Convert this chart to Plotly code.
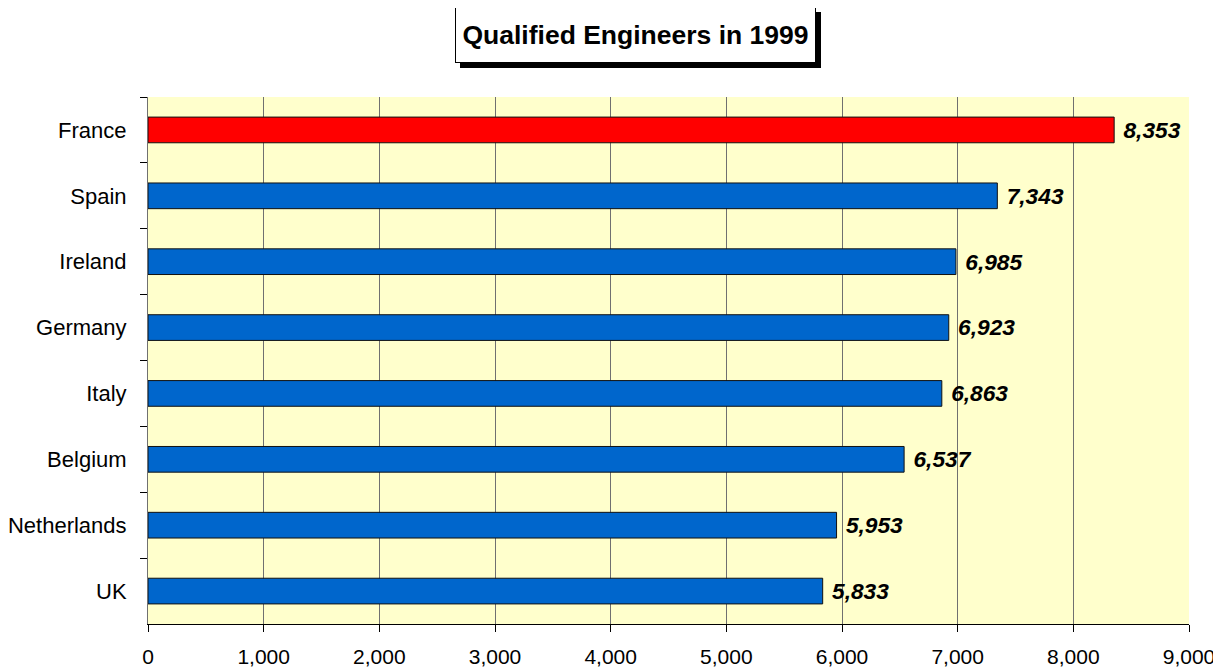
import plotly.graph_objects as go

countries = ["France", "Spain", "Ireland", "Germany", "Italy", "Belgium", "Netherlands", "UK"]
engineers = [8353, 7343, 6985, 6923, 6863, 6537, 5953, 5833]
bar_colors = ["#FF0000"] + ["#0066CC"] * 7
x_ticks = [0, 1000, 2000, 3000, 4000, 5000, 6000, 7000, 8000, 9000]
title_text = "Qualified Engineers in 1999"

FAM = "Liberation Sans, Arial"

fig = go.Figure()
fig.add_trace(go.Bar(
    y=countries, x=engineers, orientation="h",
    marker=dict(color=bar_colors, line=dict(color="#111111", width=1)),
    width=0.39,
    texttemplate=" %{x:,}",
    textposition="outside",
    cliponaxis=False,
    textfont=dict(family=FAM, size=23, color="#000000",
                  weight="bold", style="italic"),
))

yfont = dict(family=FAM, size=22, color="#000000")
xfont = dict(family=FAM, size=21, color="#000000")
title_font = dict(family=FAM, size=26.5, color="#000000", weight="bold")

fig.update_layout(
    width=1213, height=662,
    margin=dict(l=140, r=32, t=89, b=46),
    paper_bgcolor="#FFFFFF",
    plot_bgcolor="#FFFFCC",
    showlegend=False,
    font=yfont,
    xaxis=dict(
        range=[0, 9000], tickvals=x_ticks,
        ticktext=[f"{v:,}" for v in x_ticks],
        showgrid=True, gridcolor="#707070", gridwidth=1,
        showline=True, linecolor="#000000", linewidth=1,
        ticks="outside", ticklen=7, tickcolor="#000000",
        ticklabelstandoff=7, zeroline=False, tickfont=xfont,
        automargin=False,
    ),
    yaxis=dict(
        categoryorder="array", categoryarray=countries, autorange="reversed",
        showgrid=False,
        showline=True, linecolor="#707070", linewidth=1,
        ticks="outside", ticklen=7, tickcolor="#000000",
        tickson="boundaries", ticklabelstandoff=16, tickfont=yfont,
        automargin=False,
    ),
    annotations=[
        dict(text=title_text, xref="paper", yref="paper", x=0.468, y=1.1176,
             xanchor="center", yanchor="middle",
             xshift=5, yshift=-5, showarrow=False, width=357, height=52,
             bgcolor="#000000", bordercolor="#000000", borderwidth=1,
             font=title_font),
        dict(text=title_text, xref="paper", yref="paper", x=0.468, y=1.1176,
             xanchor="center", yanchor="middle",
             showarrow=False, width=357, height=52,
             bgcolor="#FFFFFF", bordercolor="#000000", borderwidth=1,
             font=title_font),
    ],
)

fig.write_html("out.html")
